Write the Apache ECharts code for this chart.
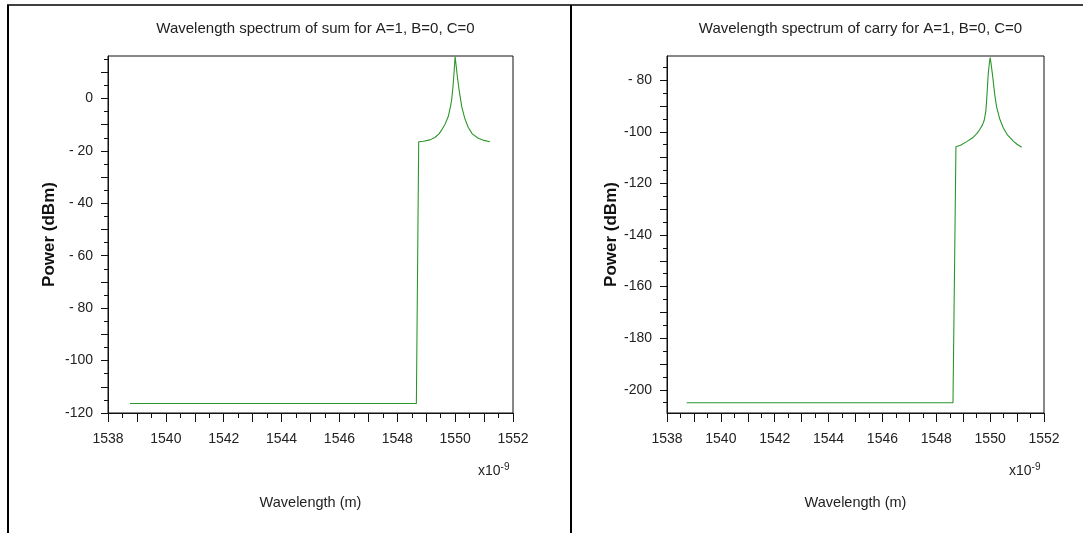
<!DOCTYPE html>
<html><head><meta charset="utf-8">
<script src="https://cdn.jsdelivr.net/npm/echarts@6/dist/echarts.min.js"></script>
<style>html,body{margin:0;padding:0;background:#fff}#c{width:1086px;height:533px}</style>
</head><body><div id="c"></div>
<script>
// ---- data ----
const titles = ['Wavelength spectrum of sum for A=1, B=0, C=0', 'Wavelength spectrum of carry for A=1, B=0, C=0'];
const xTickLabels = [1538, 1540, 1542, 1544, 1546, 1548, 1550, 1552];
const sumYLabels = [0, -20, -40, -60, -80, -100, -120];
const carryYLabels = [-80, -100, -120, -140, -160, -180, -200];

const sumWavelength = [1538.76, 1548.66, 1548.74, 1548.9, 1549.13, 1549.3, 1549.45, 1549.53, 1549.65, 1549.76, 1549.84, 1549.88, 1549.93, 1549.96, 1550.0, 1550.04, 1550.08, 1550.14, 1550.23, 1550.33, 1550.45, 1550.6, 1550.8, 1551.0, 1551.2];
const sumPower = [-116.4, -116.4, -16.5, -16.3, -15.8, -14.9, -13.4, -12.1, -9.8, -7.0, -3.0, -0.5, 5.0, 9.5, 16.0, 12.0, 8.0, 3.0, -3.2, -7.5, -11.0, -13.6, -15.2, -16.0, -16.5];

const carryWavelength = [1538.73, 1548.62, 1548.73, 1548.9, 1549.13, 1549.35, 1549.52, 1549.62, 1549.72, 1549.78, 1549.84, 1549.87, 1549.93, 1549.97, 1550.0, 1550.04, 1550.1, 1550.17, 1550.24, 1550.35, 1550.49, 1550.65, 1550.86, 1551.0, 1551.17];
const carryPower = [-205.0, -205.0, -105.8, -105.2, -103.8, -102.3, -100.5, -99.0, -97.2, -95.5, -92.0, -87.7, -77.4, -73.5, -71.2, -74.0, -79.0, -85.5, -90.3, -94.8, -98.5, -101.3, -103.6, -104.8, -106.0];

// ---- helpers ----
const FONT = "'Liberation Sans Narrow', 'Liberation Sans', Arial, sans-serif";
const TXT = '#222';
function range(a, b, s) { const r = []; for (let v = a; v <= b + 1e-9; v += s) r.push(+v.toFixed(3)); return r; }
function pair(xs, ys) { return xs.map((x, i) => [x, ys[i]]); }
function fmtY(v) { if (v === 0) return '0'; const a = Math.abs(v); return a >= 100 ? '-' + a : '- ' + a; }

const panels = [
  { left: 108, width: 405, ymin: -120, ymax: 16.2, ylabels: sumYLabels, data: pair(sumWavelength, sumPower), yGap: 50 },
  { left: 667, width: 377, ymin: -209.0, ymax: -70.6, ylabels: carryYLabels, data: pair(carryWavelength, carryPower), yGap: 47 }
];
const TOP = 56, HEIGHT = 357;

const grid = [], xAxis = [], yAxis = [], series = [], title = [], graphic = [];
panels.forEach((p, i) => {
  grid.push({ left: p.left, top: TOP, width: p.width, height: HEIGHT, show: true, borderColor: '#111', borderWidth: 1, backgroundColor: 'transparent' });
  const xMajor = range(1538, 1552, 1), xMinor = range(1538.5, 1551.5, 1);
  xAxis.push({
    type: 'value', gridIndex: i, min: 1538, max: 1552, interval: 2, position: 'bottom',
    name: 'Wavelength (m)', nameLocation: 'middle', nameGap: 82,
    nameTextStyle: { fontFamily: FONT, fontSize: 14.5, color: TXT },
    axisLine: { show: true, onZero: false, lineStyle: { color: '#111', width: 1 } },
    axisTick: { show: true, inside: false, length: 9, lineStyle: { color: '#111' }, customValues: xMajor },
    axisLabel: { show: true, margin: 19, fontFamily: FONT, fontSize: 14, color: TXT, customValues: xTickLabels, formatter: v => String(v) },
    splitLine: { show: false }
  });
  xAxis.push({
    type: 'value', gridIndex: i, min: 1538, max: 1552, interval: 2, position: 'bottom',
    axisLine: { show: false, onZero: false }, axisLabel: { show: false }, splitLine: { show: false },
    axisTick: { show: true, inside: false, length: 5, lineStyle: { color: '#111' }, customValues: xMinor }
  });
  const lo = Math.ceil(p.ymin / 5) * 5, hi = Math.floor(p.ymax / 5) * 5;
  const yAll = range(lo, hi, 5);
  const yMajor = yAll.filter(v => Math.abs(v % 10) < 1e-6);
  const yMinor = yAll.filter(v => Math.abs(v % 10) >= 1e-6);
  yAxis.push({
    type: 'value', gridIndex: i, min: p.ymin, max: p.ymax, position: 'left',
    name: 'Power (dBm)', nameLocation: 'middle', nameGap: p.yGap, nameRotate: 90,
    nameTextStyle: { fontFamily: "'Liberation Sans', Arial, sans-serif", fontSize: 17, fontWeight: 'bold', color: '#111' },
    axisLine: { show: true, onZero: false, lineStyle: { color: '#111', width: 1 } },
    axisTick: { show: true, inside: false, length: 7, lineStyle: { color: '#111' }, customValues: yMajor },
    axisLabel: { show: true, margin: 15, fontFamily: FONT, fontSize: 14, color: TXT, customValues: p.ylabels, formatter: fmtY },
    splitLine: { show: false }
  });
  yAxis.push({
    type: 'value', gridIndex: i, min: p.ymin, max: p.ymax, position: 'left',
    axisLine: { show: false, onZero: false }, axisLabel: { show: false }, splitLine: { show: false },
    axisTick: { show: true, inside: false, length: 4, lineStyle: { color: '#111' }, customValues: yMinor }
  });
  series.push({
    type: 'line', xAxisIndex: i * 2, yAxisIndex: i * 2, data: p.data, showSymbol: false, symbol: 'none',
    lineStyle: { color: '#2a962a', width: 1.1 }, animation: false, silent: true
  });
  const cx = p.left + p.width / 2;
  title.push({ text: titles[i], left: cx, top: 16, textAlign: 'center',
    textStyle: { fontFamily: FONT, fontSize: 15, fontWeight: 'normal', color: TXT } });
  graphic.push({ type: 'text', left: p.left + p.width - 35, top: 462,
    style: { text: '{a|x10}{b|-9}', rich: { a: { fontFamily: FONT, fontSize: 14, fill: TXT }, b: { fontFamily: FONT, fontSize: 10, fill: TXT, verticalAlign: 'top', padding: [0, 0, 8, 0] } } } });
});
// frame lines
graphic.push({ type: 'line', shape: { x1: 7, y1: 5, x2: 1083, y2: 5 }, style: { stroke: '#000', lineWidth: 1.5 } });
graphic.push({ type: 'line', shape: { x1: 8, y1: 5, x2: 8, y2: 533 }, style: { stroke: '#000', lineWidth: 2 } });
graphic.push({ type: 'line', shape: { x1: 571, y1: 5, x2: 571, y2: 533 }, style: { stroke: '#000', lineWidth: 2 } });

const chart = echarts.init(document.getElementById('c'), null, { renderer: 'canvas' });
chart.setOption({ animation: false, backgroundColor: '#fff', title, grid, xAxis, yAxis, series, graphic });
</script></body></html>
